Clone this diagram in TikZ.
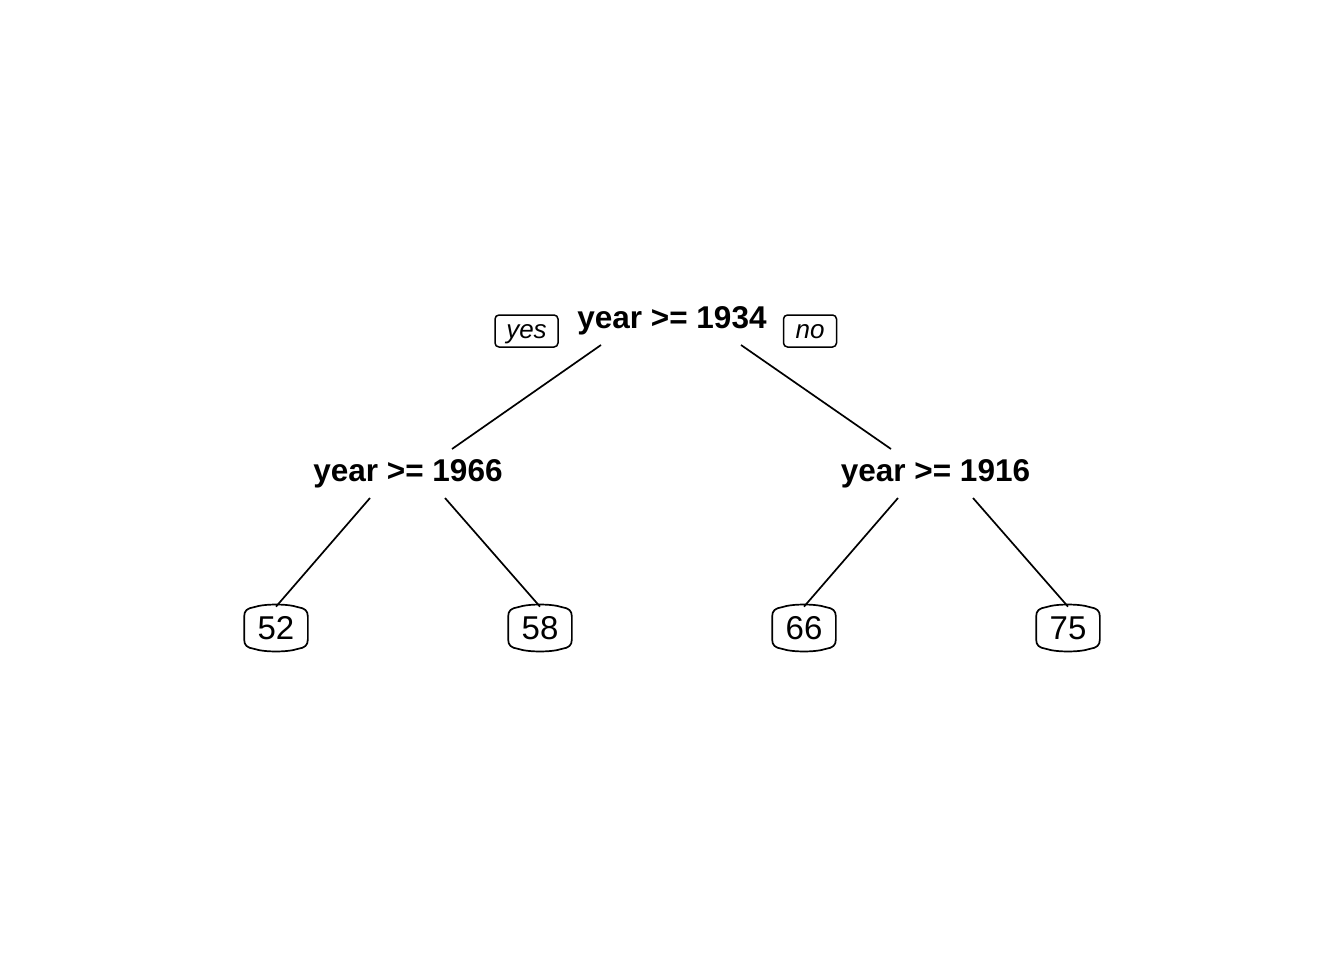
\documentclass[tikz,border=0pt]{standalone}
\usepackage{fontspec}
\setmainfont{Liberation Sans}
\begin{document}
\begin{tikzpicture}[x=1pt,y=-1pt,line width=1.7pt,
  split/.style={font=\fontsize{31.5}{34}\bfseries\selectfont,inner sep=0pt,anchor=base},
  leaf/.style={font=\fontsize{33}{36}\selectfont,inner sep=0pt,minimum width=62pt,minimum height=45pt},
  tag/.style={draw,rounded corners=4pt,line width=1.5pt,inner sep=0pt,font=\fontsize{26}{28}\itshape\selectfont,minimum height=32pt,text height=20pt,text depth=6pt},
  edge/.style={line width=1.7pt}]
\useasboundingbox (0,0) rectangle (1344,960);
\newcommand\leafbox[1]{%
  \draw[line width=1.7pt] ([yshift=-12pt]#1.north west)
   .. controls ([yshift=-6pt]#1.north west) and ([xshift=3pt,yshift=-3.5pt]#1.north west) .. ([xshift=10pt,yshift=-2.5pt]#1.north west)
   .. controls ([xshift=-12pt,yshift=1pt]#1.north) and ([xshift=12pt,yshift=1pt]#1.north) .. ([xshift=-10pt,yshift=-2.5pt]#1.north east)
   .. controls ([xshift=-3pt,yshift=-3.5pt]#1.north east) and ([yshift=-6pt]#1.north east) .. ([yshift=-12pt]#1.north east)
   -- ([yshift=12pt]#1.south east)
   .. controls ([yshift=6pt]#1.south east) and ([xshift=-3pt,yshift=3.5pt]#1.south east) .. ([xshift=-10pt,yshift=2.5pt]#1.south east)
   .. controls ([xshift=12pt,yshift=-1pt]#1.south) and ([xshift=-12pt,yshift=-1pt]#1.south) .. ([xshift=10pt,yshift=2.5pt]#1.south west)
   .. controls ([xshift=3pt,yshift=3.5pt]#1.south west) and ([yshift=6pt]#1.south west) .. ([yshift=12pt]#1.south west)
   -- cycle;}
\node[split] (root) at (672,328) {year >= 1934};
\node[tag,minimum width=63pt] (yes) at (526.5,331) {yes};
\node[tag,minimum width=53pt] (no) at (810,331) {no};
\node[split] (a) at (408,481) {year >= 1966};
\node[split] (b) at (935.5,481) {year >= 1916};
\node[leaf] (l1) at (276,628) {52};
\node[leaf] (l2) at (540,628) {58};
\node[leaf] (l3) at (804,628) {66};
\node[leaf] (l4) at (1068,628) {75};
\leafbox{l1}\leafbox{l2}\leafbox{l3}\leafbox{l4}
\draw[edge] ([xshift=-71pt,yshift=-17pt]root.base) -- ([xshift=44pt,yshift=32pt]a.base);
\draw[edge] ([xshift=69pt,yshift=-17pt]root.base) -- ([xshift=-44.5pt,yshift=32pt]b.base);
\draw[edge] ([xshift=-38pt,yshift=-17pt]a.base) -- ([yshift=-2pt]l1.north);
\draw[edge] ([xshift=37pt,yshift=-17pt]a.base) -- ([yshift=-2pt]l2.north);
\draw[edge] ([xshift=-37.5pt,yshift=-17pt]b.base) -- ([yshift=-2pt]l3.north);
\draw[edge] ([xshift=37.5pt,yshift=-17pt]b.base) -- ([yshift=-2pt]l4.north);
\end{tikzpicture}
\end{document}
